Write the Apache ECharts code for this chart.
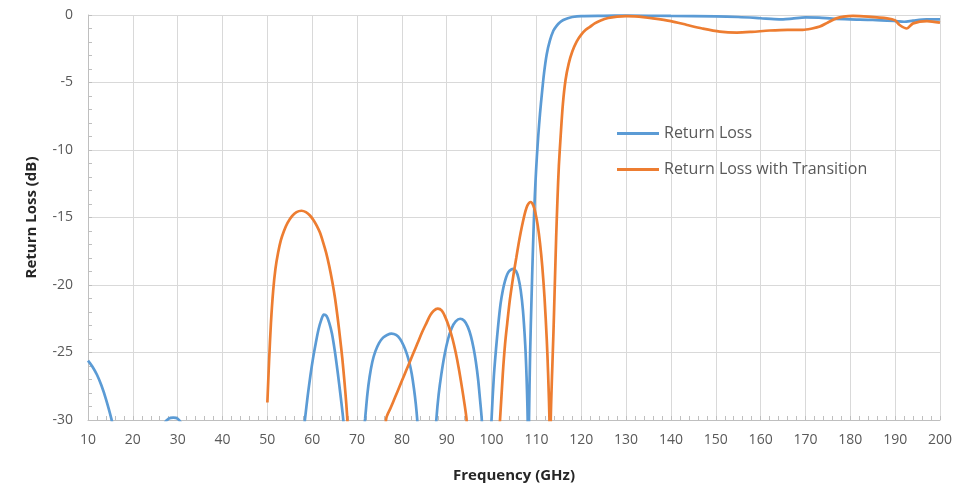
<!DOCTYPE html>
<html>
<head>
<meta charset="utf-8">
<script src="https://cdn.jsdelivr.net/npm/echarts@6/dist/echarts.min.js"></script>
<style>
html,body{margin:0;padding:0;background:#fff;}
#chart{width:965px;height:488px;}
</style>
</head>
<body>
<div id="chart"></div>
<script>
var seriesNames = ["Return Loss", "Return Loss with Transition"];
var xAxisTitle = "Frequency (GHz)";
var yAxisTitle = "Return Loss (dB)";

var blueFreq = [10,11,12,13,14,15.2,16,18,22,25.5,27,28,29,30,31,33,40,50,55.5,57.5,58.4,59,59.6,60.2,60.8,61.4,62,62.6,63.2,63.8,64.4,65,65.5,66,66.5,66.9,67.5,69.5,71,71.8,72.3,72.8,73.4,74.1,74.9,75.8,76.7,77.7,78.7,79.6,80.4,81.1,81.7,82.2,82.7,83.1,83.4,84,85.6,87.1,87.7,88.2,88.8,89.5,90.3,91.1,92,93,93.9,94.7,95.4,96,96.5,97,97.4,97.8,98.4,99.2,99.6,100,100.5,101,101.5,102,102.5,103,103.5,104,104.8,105.5,106,106.5,107,107.5,107.8,108.05,108.2,108.35,108.6,108.9,109.2,109.5,109.8,110.1,110.4,110.8,111.2,111.7,112.3,113,113.8,114.5,115.2,116,117,118,120,125,130,140,150,155,160,163,165,167,170,173,176,180,185,190,192,194,197,200];
var blueLoss = [-25.6,-26.05,-26.65,-27.45,-28.45,-29.9,-31.2,-34.5,-36,-32.5,-30.3,-29.9,-29.82,-29.9,-30.4,-33,-38,-40,-36,-32.5,-29.9,-28.2,-26.7,-25.4,-24.3,-23.3,-22.6,-22.2,-22.3,-22.8,-23.6,-24.8,-26.0,-27.3,-28.7,-29.9,-32.5,-38,-32.5,-29.9,-28.1,-26.8,-25.7,-24.9,-24.3,-23.9,-23.7,-23.6,-23.7,-24.0,-24.5,-25.1,-25.8,-26.6,-27.7,-28.8,-29.9,-33,-39,-33,-29.9,-28.1,-26.6,-25.2,-24.0,-23.2,-22.7,-22.5,-22.65,-23.1,-23.8,-24.7,-25.7,-27.0,-28.4,-29.9,-33.5,-38,-33,-29.9,-26.8,-24.7,-22.9,-21.4,-20.4,-19.7,-19.2,-18.95,-18.8,-19.0,-19.5,-20.4,-21.9,-24.4,-26.8,-29.9,-35,-29.9,-25,-21.1,-17.6,-14.6,-12.3,-10.5,-9.0,-7.3,-5.9,-4.3,-2.9,-1.9,-1.15,-0.8,-0.55,-0.37,-0.24,-0.15,-0.08,-0.06,-0.05,-0.07,-0.1,-0.15,-0.24,-0.3,-0.32,-0.27,-0.18,-0.2,-0.27,-0.32,-0.36,-0.45,-0.5,-0.42,-0.33,-0.32];

var orangeFreq = [50,50.4,50.8,51.3,51.8,52.4,53,53.7,54.5,55.5,56.5,57.6,58.6,59.5,60.3,61,61.7,62.4,63.1,63.8,64.5,65.1,65.7,66.2,66.7,67.2,67.6,67.9,68.5,71,75,76.5,77.5,78.5,79.5,80.5,81.5,82.5,83.5,84.5,85.5,86.3,87.1,88,88.9,89.7,90.5,91.3,92,92.7,93.4,94,94.4,95,98,101.2,101.9,102.5,103,103.5,104,104.5,105,105.5,106,106.5,107,107.5,108,108.7,109.3,109.8,110.3,110.8,111.3,111.8,112.3,112.6,112.9,113.05,113.2,113.5,113.8,114.1,114.4,114.7,115,115.4,115.9,116.5,117.2,118,119,120,121,122,123,124.2,126,128,130,132,136,140,143.6,147,150.9,154.7,158,162,166,169.4,171.5,173.2,175,176.9,178.5,180.6,184,188.2,190,191,192.6,194,197.1,200];
var orangeLoss = [-28.7,-25.5,-22.8,-20.4,-18.8,-17.6,-16.7,-16.0,-15.4,-14.9,-14.6,-14.5,-14.6,-14.85,-15.2,-15.6,-16.1,-16.8,-17.6,-18.6,-19.8,-21.0,-22.5,-23.9,-25.4,-27.2,-28.8,-30.3,-34,-40,-35,-29.9,-29.1,-28.3,-27.5,-26.7,-25.9,-25.1,-24.3,-23.5,-22.8,-22.25,-21.9,-21.75,-21.9,-22.4,-23.1,-24.0,-25.0,-26.2,-27.6,-28.9,-29.9,-33,-40,-33,-29.9,-26.6,-24.4,-22.8,-21.3,-20.1,-19.0,-18.0,-17.0,-16.1,-15.3,-14.6,-14.1,-13.85,-14.1,-14.7,-15.6,-16.9,-18.6,-20.9,-24.0,-26.5,-29.9,-35,-29.9,-26.5,-23.5,-20.0,-16.5,-13.6,-11.2,-9.0,-6.6,-4.8,-3.6,-2.7,-1.95,-1.45,-1.1,-0.86,-0.62,-0.42,-0.22,-0.12,-0.08,-0.1,-0.25,-0.45,-0.74,-1.0,-1.23,-1.3,-1.25,-1.15,-1.1,-1.1,-1.0,-0.86,-0.55,-0.25,-0.12,-0.07,-0.12,-0.25,-0.4,-0.74,-1.0,-0.62,-0.45,-0.57];

function pairs(xs, ys){ return xs.map(function(x,i){ return [x, ys[i]]; }); }

var chart = echarts.init(document.getElementById('chart'), null, {renderer:'canvas'});
var txt = '#595959';
var fontFam = '"Open Sans", "Liberation Sans", sans-serif';
chart.setOption({
  animation:false,
  backgroundColor:'#fff',
  textStyle:{fontFamily:fontFam},
  grid:{left:88, top:15, width:852, height:406, containLabel:false},
  legend:{
    orient:'vertical', left:612, top:118, itemGap:15, itemWidth:42, itemHeight:3,
    icon:'rect',
    textStyle:{color:txt, fontSize:16, fontFamily:fontFam, lineHeight:21},
    data:seriesNames
  },
  xAxis:{
    type:'value', min:10, max:200, interval:10,
    name:xAxisTitle, nameLocation:'middle', nameGap:48,
    nameTextStyle:{color:'#262626', fontSize:15, fontWeight:'bold', fontFamily:fontFam},
    axisLine:{show:true, onZero:false, lineStyle:{color:'#bfbfbf', width:1}},
    axisTick:{show:true, inside:true, length:4, lineStyle:{color:'#bfbfbf'}},
    minorTick:{show:true, splitNumber:5, length:4, lineStyle:{color:'#bfbfbf'}},
    axisLabel:{color:txt, fontSize:14, margin:13, fontFamily:fontFam},
    splitLine:{show:true, lineStyle:{color:'#d9d9d9', width:1}}
  },
  yAxis:{
    type:'value', min:-30, max:0, interval:5,
    name:yAxisTitle, nameLocation:'middle', nameGap:49, nameRotate:90,
    nameTextStyle:{color:'#262626', fontSize:15, fontWeight:'bold', fontFamily:fontFam},
    axisLine:{show:true, onZero:false, lineStyle:{color:'#bfbfbf', width:1}},
    axisTick:{show:true, inside:true, length:4, lineStyle:{color:'#bfbfbf'}},
    minorTick:{show:true, splitNumber:5, length:4, lineStyle:{color:'#bfbfbf'}},
    axisLabel:{color:txt, fontSize:14, margin:15, fontFamily:fontFam},
    splitLine:{show:true, lineStyle:{color:'#d9d9d9', width:1}}
  },
  series:[
    {name:seriesNames[0], type:'line', data:pairs(blueFreq, blueLoss), showSymbol:false, symbol:'none',
     smooth:0.3, clip:true, lineStyle:{color:'#5B9BD5', width:2.7}, itemStyle:{color:'#5B9BD5'}},
    {name:seriesNames[1], type:'line', data:pairs(orangeFreq, orangeLoss), showSymbol:false, symbol:'none',
     smooth:0.3, clip:true, lineStyle:{color:'#ED7D31', width:2.7}, itemStyle:{color:'#ED7D31'}}
  ]
});
</script>
</body>
</html>
